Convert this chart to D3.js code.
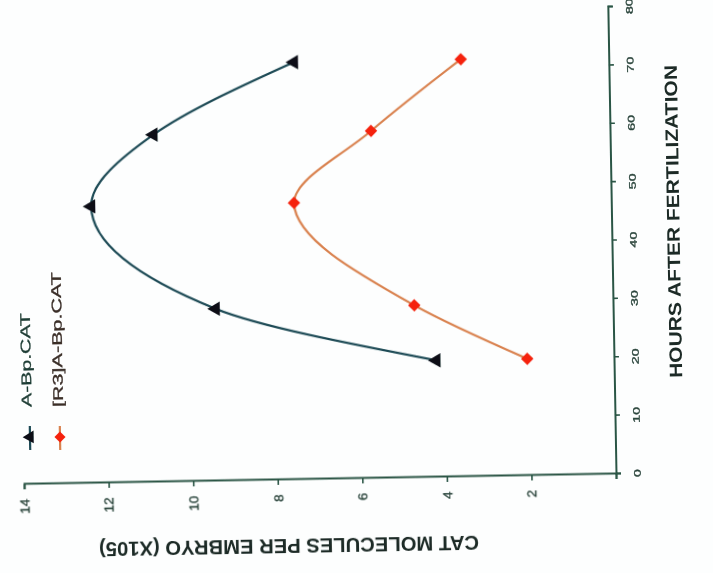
<!DOCTYPE html>
<html>
<head>
<meta charset="utf-8">
<script src="https://cdn.jsdelivr.net/npm/d3@7"></script>
<style>
  html, body { margin: 0; padding: 0; background: #fdfefe; }
  svg { display: block; font-family: "Liberation Sans", Arial, Helvetica, sans-serif; }
</style>
</head>
<body>
<svg id="chart" width="713" height="573"></svg>
<script>
// Sampling times (hours after fertilization)
const hours = [20, 29.5, 47.4, 59.5, 71.5];
// CAT molecules per embryo (x10^5)
const abpCat = [4.2, 9.4, 12.3, 10.8, 7.45];
const r3AbpCat = [2.05, 4.7, 7.5, 5.65, 3.5];
const seriesNames = ["A-Bp.CAT", "[R3]A-Bp.CAT"];
const hourTicks = [0, 10, 20, 30, 40, 50, 60, 70, 80];
const catTicks = [0, 2, 4, 6, 8, 10, 12, 14];
const xTitle = "HOURS AFTER FERTILIZATION";
const yTitle = "CAT MOLECULES PER EMBRYO (X105)";

const W = 713, H = 573;
const svg = d3.select("#chart");
svg.append("rect").attr("width", W).attr("height", H).attr("fill", "#fdfefe");

// slight softening of the printed slide
const defs = svg.append("defs");
defs.append("filter").attr("id", "soft")
  .attr("x", "-5%").attr("y", "-5%").attr("width", "110%").attr("height", "110%")
  .append("feGaussianBlur").attr("stdDeviation", 0.45);

const root = svg.append("g").attr("filter", "url(#soft)");

// The whole plot is laid out on its side: hours run up the page, CAT values run leftwards.
const origin = [616, 474];
const tilt = -91;
const xLen = 467, yLen = 592;
const x = d3.scaleLinear().domain([0, 80]).range([0, xLen]);
const y = d3.scaleLinear().domain([0, 14]).range([0, -yLen]);

const plot = root.append("g").attr("transform", `translate(${origin[0]},${origin[1]}) rotate(${tilt})`);

const axisColor = "#2a5545";
const tickTextColor = "#2c463d";

// Hours axis
const xAxis = plot.append("g")
  .call(d3.axisBottom(x).tickValues(hourTicks).tickSize(5).tickSizeOuter(5).tickPadding(13));
xAxis.attr("font-family", null).attr("font-size", null);
xAxis.select(".domain").attr("stroke", axisColor).attr("stroke-width", 2);
xAxis.selectAll(".tick line").attr("stroke", axisColor).attr("stroke-width", 1.6);
xAxis.selectAll(".tick text")
  .attr("font-size", 9.5)
  .attr("fill", tickTextColor)
  .attr("stroke", tickTextColor).attr("stroke-width", 0.35)
  .attr("transform", "scale(1.5,1)");

// CAT axis
const yAxis = plot.append("g")
  .call(d3.axisLeft(y).tickValues(catTicks).tickSize(5).tickSizeOuter(5).tickPadding(9.5)
    .tickFormat(d => d === 0 ? "" : d));
yAxis.attr("font-family", null).attr("font-size", null);
yAxis.select(".domain").attr("stroke", axisColor).attr("stroke-width", 2);
yAxis.selectAll(".tick line").attr("stroke", axisColor).attr("stroke-width", 1.6);
yAxis.selectAll(".tick text")
  .attr("font-size", 13.5)
  .attr("fill", tickTextColor)
  .attr("stroke", tickTextColor).attr("stroke-width", 0.35);

// Curves
const lineFor = vals => d3.line()
  .x((d, i) => x(hours[i]))
  .y(d => y(d))
  .curve(d3.curveMonotoneX)(vals);

const blackLine = "#1c4a55", blackMark = "#0a1018";
const redLine = "#d9824f", redMark = "#f5230f";

plot.append("path").attr("d", lineFor(abpCat))
  .attr("fill", "none").attr("stroke", blackLine).attr("stroke-width", 2.2);
plot.append("path").attr("d", lineFor(r3AbpCat))
  .attr("fill", "none").attr("stroke", redLine).attr("stroke-width", 2.2);

const tri = d3.symbol(d3.symbolTriangle, 90);
const sq = d3.symbol(d3.symbolSquare, 78);

plot.selectAll(".m-a").data(abpCat).join("path")
  .attr("class", "m-a")
  .attr("transform", (d, i) => `translate(${x(hours[i])},${y(d)})`)
  .attr("d", tri)
  .attr("fill", blackMark);

plot.selectAll(".m-r").data(r3AbpCat).join("path")
  .attr("class", "m-r")
  .attr("transform", (d, i) => `translate(${x(hours[i])},${y(d)}) rotate(45)`)
  .attr("d", sq)
  .attr("fill", redMark);

// Axis titles
root.append("text")
  .attr("transform", "translate(673,221.5) rotate(-91)")
  .attr("text-anchor", "middle").attr("dy", "0.36em")
  .attr("font-size", 18).attr("font-weight", "bold")
  .attr("fill", "#1d2b27")
  .attr("textLength", 313).attr("lengthAdjust", "spacingAndGlyphs")
  .text(xTitle);

root.append("text")
  .attr("transform", "translate(289,547) rotate(179)")
  .attr("text-anchor", "middle").attr("dy", "0.36em")
  .attr("font-size", 21).attr("font-weight", "bold")
  .attr("fill", "#1d2b27")
  .attr("textLength", 380).attr("lengthAdjust", "spacingAndGlyphs")
  .text(yTitle);

// Legend
const legendItems = [
  { name: seriesNames[0], pos: [30, 437], line: blackLine, mark: blackMark, type: d3.symbolTriangle, size: 70, rot: 0, text: "#1f3d35", len: 94, dy: -3 },
  { name: seriesNames[1], pos: [60, 437], line: redLine, mark: redMark, type: d3.symbolSquare, size: 62, rot: 45, text: "#3a2e28", len: 135, dy: -1.5 }
];
const legend = root.append("g");
legendItems.forEach(it => {
  const g = legend.append("g").attr("transform", `translate(${it.pos[0]},${it.pos[1]}) rotate(${tilt})`);
  g.append("line").attr("x1", -13).attr("x2", 11).attr("y1", 0).attr("y2", 0)
    .attr("stroke", it.line).attr("stroke-width", 2.2);
  g.append("path").attr("d", d3.symbol(it.type, it.size)())
    .attr("transform", `rotate(${it.rot})`)
    .attr("fill", it.mark);
  g.append("text").attr("x", 30).attr("y", it.dy).attr("dy", "0.36em")
    .attr("font-size", 14).attr("fill", it.text)
    .attr("stroke", it.text).attr("stroke-width", 0.3)
    .attr("textLength", it.len).attr("lengthAdjust", "spacingAndGlyphs")
    .text(it.name);
});
</script>
</body>
</html>
